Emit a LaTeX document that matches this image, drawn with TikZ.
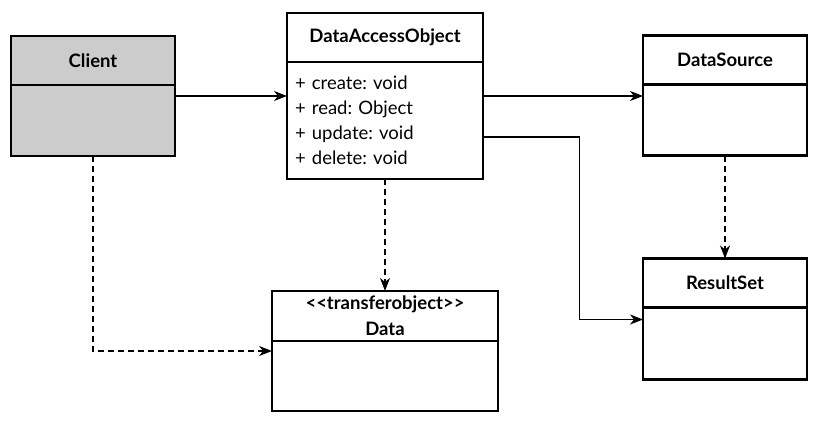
\documentclass[tikz,border=0pt]{standalone}
\usepackage{fontspec}
\setmainfont{Lato}
\usetikzlibrary{positioning,calc,arrows.meta}
\frenchspacing

\begin{document}
\begin{tikzpicture}[
        x=1pt, y=-1pt,
        node distance=0pt,
        head/.style={rectangle, draw, line width=2.6pt, outer sep=0pt, inner sep=0pt, minimum height=49pt, align=center, font=\fontsize{18.5}{26}\selectfont\bfseries},
        body/.style={rectangle, draw, line width=2.6pt, outer sep=0pt, inner sep=0pt, minimum height=71pt},
        arrow/.style={-{Stealth[length=13pt,width=10pt,inset=4pt]}, line width=1.2pt},
        dep/.style={arrow, dash pattern=on 6pt off 4pt}
    ]
    \useasboundingbox (0,0) rectangle (826,425);

    % Client
    \node[head, fill=black!20, minimum width=164pt] (clienthead) at (93,60.5) {Client};
    \node[body, fill=black!20, minimum width=164pt, below=of clienthead] (clientbody) {};

    % Data access object
    \node[head, minimum width=196pt] (daohead) at (385,37.5) {DataAccessObject};
    \node[body, minimum height=117pt, text width=180pt, inner xsep=8pt, align=left, below=of daohead,
          font=\fontsize{18.5}{25}\selectfont] (daobody)
        {+ create: void\\+ read: Object\\+ update: void\\+ delete: void};

    % Data source
    \node[head, minimum width=164pt] (dshead) at (725,60) {DataSource};
    \node[body, minimum width=164pt, below=of dshead] (dsbody) {};

    % Result set
    \node[head, minimum width=164pt] (rshead) at (725,283) {ResultSet};
    \node[body, minimum width=164pt, minimum height=72pt, below=of rshead] (rsbody) {};

    % Transfer object
    \node[head, minimum width=226pt, minimum height=50pt] (datahead) at (385,316)
        {{<}{<}transferobject{>}{>}\\Data};
    \node[body, minimum width=226pt, minimum height=70pt, below=of datahead] (databody) {};

    % Associations
    \draw[arrow] ([yshift=24.5pt]clientbody.east) -- ([yshift=24.5pt]clientbody.east -| daobody.west);
    \draw[arrow] ([yshift=24.5pt]daobody.east) -- ([yshift=24.5pt]daobody.east -| dsbody.west);
    \draw[arrow] ([yshift=-16.5pt]daobody.east) -- ++(96.5,0) |- ([yshift=24pt]rsbody.west);

    % Dependencies
    \draw[dep] (daobody.south) -- (datahead.north);
    \draw[dep] (dsbody.south) -- (rshead.north);
    \draw[dep] (clientbody.south) |- ([yshift=25pt]databody.west);

\end{tikzpicture}
\end{document}
